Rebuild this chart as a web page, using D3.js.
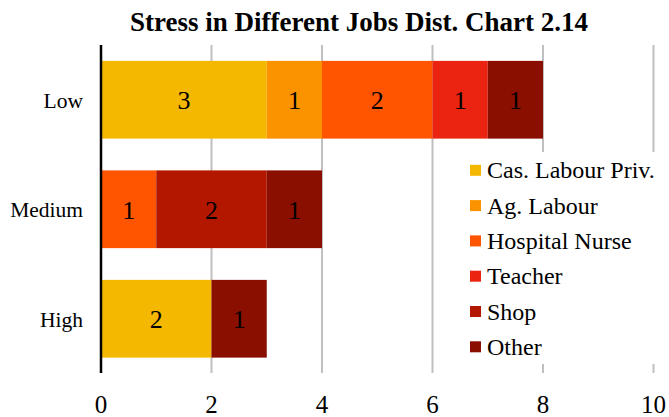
<!DOCTYPE html>
<html>
<head>
<meta charset="utf-8">
<script src="https://cdn.jsdelivr.net/npm/d3@7"></script>
<style>
  body { margin: 0; background: #fff; }
  text { font-family: "Liberation Serif", "Times New Roman", serif; }
</style>
</head>
<body>
<svg id="chart" width="669" height="417"></svg>
<script>
var categories = ['Low', 'Medium', 'High'];
var seriesNames = ['Cas. Labour Priv.', 'Ag. Labour', 'Hospital Nurse', 'Teacher', 'Shop', 'Other'];
var casLabour = [3, 0, 2];
var agLabour = [1, 0, 0];
var nurse = [2, 1, 0];
var teacher = [1, 0, 0];
var shop = [0, 2, 0];
var other = [1, 1, 1];
var xTicks = [0, 2, 4, 6, 8, 10];
var colors = ['#F5B800', '#FB9300', '#FF5500', '#EA2410', '#B31700', '#8A0F00'];

var values = [casLabour, agLabour, nurse, teacher, shop, other];

var rows = categories.map(function (c, i) {
    var r = { cat: c };
    seriesNames.forEach(function (s, j) { r[s] = values[j][i]; });
    return r;
});

var svg = d3.select('#chart');

var x = d3.scaleLinear().domain([0, 10]).range([101, 653.5]);
var y = d3.scaleBand().domain(categories).range([45, 373.5]).paddingInner(0.29).paddingOuter(0.145);

// grid lines
svg.append('g').selectAll('line')
    .data(xTicks.slice(1))
    .enter().append('line')
    .attr('x1', function (d) { return x(d); })
    .attr('x2', function (d) { return x(d); })
    .attr('y1', 45)
    .attr('y2', 373)
    .attr('stroke', '#c0c0c0')
    .attr('stroke-width', 2);

var stack = d3.stack().keys(seriesNames)(rows);

var layers = svg.append('g').selectAll('g')
    .data(stack)
    .enter().append('g')
    .attr('fill', function (d, i) { return colors[i]; });

layers.selectAll('rect')
    .data(function (d) { return d.filter(function (p) { return p[1] - p[0] > 0; }); })
    .enter().append('rect')
    .attr('x', function (d) { return x(d[0]); })
    .attr('y', function (d) { return y(d.data.cat); })
    .attr('width', function (d) { return x(d[1]) - x(d[0]); })
    .attr('height', y.bandwidth());

layers.selectAll('text')
    .data(function (d) { return d.filter(function (p) { return p[1] - p[0] > 0; }); })
    .enter().append('text')
    .attr('x', function (d) { return (x(d[0]) + x(d[1])) / 2; })
    .attr('y', function (d) { return y(d.data.cat) + y.bandwidth() / 2 + 9.5; })
    .attr('text-anchor', 'middle')
    .attr('fill', '#000')
    .style('font-size', '26px')
    .text(function (d) { return d[1] - d[0]; });

// y axis line
svg.append('line')
    .attr('x1', x(0)).attr('x2', x(0))
    .attr('y1', 45).attr('y2', 373)
    .attr('stroke', '#000')
    .attr('stroke-width', 2.5);

// category labels
svg.append('g').selectAll('text')
    .data(categories)
    .enter().append('text')
    .attr('x', 83)
    .attr('y', function (d) { return y(d) + y.bandwidth() / 2 + 8; })
    .attr('text-anchor', 'end')
    .style('font-size', '21.5px')
    .text(function (d) { return d; });

// x tick labels
svg.append('g').selectAll('text')
    .data(xTicks)
    .enter().append('text')
    .attr('x', function (d) { return x(d); })
    .attr('y', 413)
    .attr('text-anchor', 'middle')
    .style('font-size', '25px')
    .text(function (d) { return d; });

// legend
var legend = svg.append('g');
legend.append('rect')
    .attr('x', 460).attr('y', 152)
    .attr('width', 209).attr('height', 212)
    .attr('fill', '#fff');

var items = legend.selectAll('g.item')
    .data(seriesNames)
    .enter().append('g')
    .attr('class', 'item')
    .attr('transform', function (d, i) { return 'translate(470,' + (170.3 + i * 35.3) + ')'; });

items.append('rect')
    .attr('x', 0).attr('y', -5.5)
    .attr('width', 11).attr('height', 11)
    .attr('fill', function (d, i) { return colors[i]; });

items.append('text')
    .attr('x', 17)
    .attr('y', 8)
    .style('font-size', '24px')
    .text(function (d) { return d; });

// title
svg.append('text')
    .attr('x', 359)
    .attr('y', 31)
    .attr('text-anchor', 'middle')
    .style('font-size', '27px')
    .style('font-weight', 'bold')
    .text('Stress in Different Jobs Dist. Chart 2.14');
</script>
</body>
</html>
